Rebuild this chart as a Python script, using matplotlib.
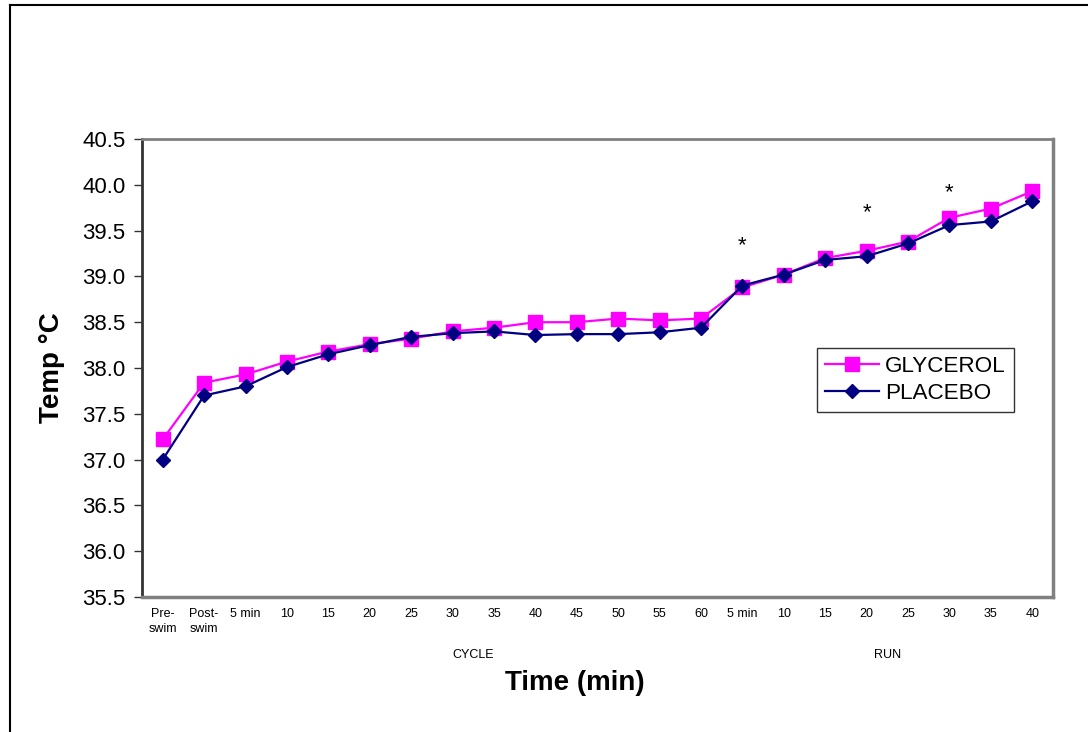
import matplotlib.pyplot as plt
from matplotlib.lines import Line2D
import matplotlib.transforms as mtransforms

plt.rcParams['font.family'] = ['Liberation Sans', 'DejaVu Sans']

labels = ['Pre-\nswim', 'Post-\nswim', '5 min', '10', '15', '20', '25', '30', '35',
          '40', '45', '50', '55', '60', '5 min', '10', '15', '20', '25', '30', '35', '40']
glycerol = [37.22, 37.84, 37.93, 38.07, 38.18, 38.26, 38.32, 38.40, 38.44, 38.50, 38.50,
            38.54, 38.52, 38.54, 38.88, 39.02, 39.20, 39.28, 39.38, 39.64, 39.74, 39.93]
placebo = [37.00, 37.70, 37.80, 38.01, 38.15, 38.25, 38.34, 38.38, 38.40, 38.36, 38.37,
           38.37, 38.39, 38.44, 38.90, 39.02, 39.18, 39.22, 39.36, 39.56, 39.60, 39.82]
# significance markers: category index, height
star_idx = [14, 17, 19]
star_y = [39.33, 39.70, 39.91]
groups = ['CYCLE', 'RUN']
group_pos = [7.5, 17.5]

fig = plt.figure(figsize=(10.88, 7.32), dpi=100)
ax = fig.add_axes([0.1305, 0.1844, 0.8373, 0.6257])

x = list(range(len(labels)))
ax.plot(x, glycerol, color='#FF00FF', lw=1.6, marker='s', ms=10.5, mec='#FF00FF',
        label='GLYCEROL', zorder=3)
ax.plot(x, placebo, color='#000080', lw=1.6, marker='D', ms=7.5, mec='#000080',
        label='PLACEBO', zorder=4)

for i, yv in zip(star_idx, star_y):
    ax.text(i, yv, '*', ha='center', va='center', fontsize=16)

ax.set_xlim(-0.5, len(labels) - 0.5)
ax.set_ylim(35.5, 40.5)
ax.set_yticks([35.5 + 0.5 * k for k in range(11)])
ax.set_yticklabels(['%.1f' % (35.5 + 0.5 * k) for k in range(11)], fontsize=16)
ax.set_xticks(x)
ax.set_xticklabels(labels, fontsize=9, linespacing=1.3)
ax.tick_params(axis='x', length=0, pad=8)
ax.tick_params(axis='y', length=6, width=1, color='#333333', pad=6)

ax.spines['left'].set_color('#333333')
ax.spines['left'].set_linewidth(2)
for s in ['top', 'right', 'bottom']:
    ax.spines[s].set_color('#808080')
ax.spines['top'].set_linewidth(2)
ax.spines['right'].set_linewidth(2.5)
ax.spines['bottom'].set_linewidth(2.5)

trans = mtransforms.blended_transform_factory(ax.transData, fig.transFigure)
for g, p in zip(groups, group_pos):
    ax.text(p, 1 - 655 / 732, g, transform=trans, ha='center', va='center', fontsize=9)

fig.text(575 / 1088, 1 - 683 / 732, 'Time (min)', ha='center', va='center',
         fontsize=20, fontweight='bold')
fig.text(52 / 1088, 1 - 368 / 732, 'Temp \u00b0C', ha='center', va='center',
         fontsize=20, fontweight='bold', rotation=90)

leg = ax.legend(loc='upper left', bbox_to_anchor=((816.7 - 142) / 911, 1 - (347.7 - 139) / 458),
                fontsize=16.2, frameon=True, fancybox=False, edgecolor='black',
                borderpad=0.35, handlelength=2.4, handletextpad=0.3, labelspacing=0.3,
                borderaxespad=0)
leg.get_frame().set_linewidth(1)

# outer frame of the chart object
fx = 9.5 / 1088
fy = 1 - 5 / 732
fig.add_artist(Line2D([fx, fx], [0, fy], color='black', lw=1.5, transform=fig.transFigure))
fig.add_artist(Line2D([fx, 1], [fy, fy], color='black', lw=1.5, transform=fig.transFigure))

fig.savefig('out.png', dpi=100)
